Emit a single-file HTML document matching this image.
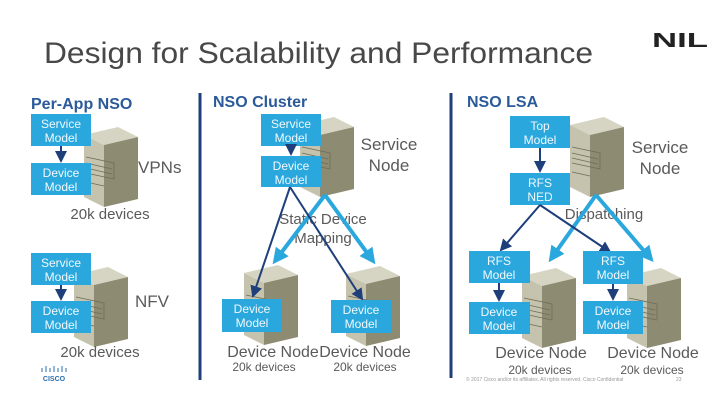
<!DOCTYPE html>
<html><head><meta charset="utf-8"><style>
body{margin:0;background:#fff}
svg{display:block}
text{font-family:"Liberation Sans",sans-serif}
.h{font-weight:bold;fill:#2b5a9a;font-size:16px}
.b{fill:#2aa8de}
.bt{fill:#f2f8fc;font-size:12px;text-anchor:middle}
.g{fill:#5a5a5a;text-anchor:middle}
</style></head><body>
<svg width="720" height="405" viewBox="0 0 720 405" xmlns="http://www.w3.org/2000/svg">
<defs>
<g id="srv">
<polygon points="0,8 34,0 54,10 20,18" fill="#d6d5c3"/>
<polygon points="0,8 20,18 20,80 0,70" fill="#c5c3ad"/>
<polygon points="20,18 54,10 54,72 20,80" fill="#8d8b72"/>
<g stroke="#6f6d58" stroke-width="0.8" fill="none">
<polyline points="2,30 30,36 30,52 2,46"/>
<line x1="2" y1="36" x2="28" y2="42"/><line x1="2" y1="41" x2="28" y2="47"/>
<line x1="2" y1="55" x2="20" y2="59"/>
</g>
</g>
<marker id="ad" markerWidth="6" markerHeight="6" refX="5" refY="3" orient="auto" markerUnits="strokeWidth"><path d="M0,0L6,3L0,6z" fill="#1f3f7a"/></marker>
<marker id="al" markerWidth="4" markerHeight="4" refX="3" refY="2" orient="auto" markerUnits="strokeWidth"><path d="M0,0L4,2L0,4z" fill="#2aa8de"/></marker>
</defs>

<text x="44" y="63" font-size="30" fill="#484848" textLength="549" lengthAdjust="spacingAndGlyphs">Design for Scalability and Performance</text>
<text x="652" y="47" font-size="20" font-weight="bold" fill="#222" textLength="56" lengthAdjust="spacingAndGlyphs">NIL</text>

<line x1="200" y1="93" x2="200" y2="380" stroke="#1f3f7a" stroke-width="3"/>
<line x1="451" y1="93" x2="451" y2="378" stroke="#1f3f7a" stroke-width="3"/>

<!-- Per-App -->
<text x="31" y="109" class="h">Per-App NSO</text>
<use href="#srv" x="84" y="127"/>
<rect x="31" y="114" width="60" height="32" class="b"/>
<text x="61" y="128" class="bt">Service</text><text x="61" y="142" class="bt">Model</text>
<rect x="31" y="163" width="60" height="32" class="b"/>
<text x="61" y="177" class="bt">Device</text><text x="61" y="191" class="bt">Model</text>
<line x1="61" y1="146" x2="61" y2="161" stroke="#1f3f7a" stroke-width="2" marker-end="url(#ad)"/>
<text x="138" y="173" font-size="17" fill="#5a5a5a">VPNs</text>
<text x="110" y="219" font-size="15" class="g">20k devices</text>

<use href="#srv" x="74" y="267"/>
<rect x="31" y="253" width="60" height="32" class="b"/>
<text x="61" y="267" class="bt">Service</text><text x="61" y="281" class="bt">Model</text>
<rect x="31" y="301" width="60" height="32" class="b"/>
<text x="61" y="315" class="bt">Device</text><text x="61" y="329" class="bt">Model</text>
<line x1="61" y1="285" x2="61" y2="299" stroke="#1f3f7a" stroke-width="2" marker-end="url(#ad)"/>
<text x="135" y="307" font-size="17" fill="#5a5a5a">NFV</text>
<text x="100" y="357" font-size="15" class="g">20k devices</text>
<g stroke="#2a6fb0" stroke-width="1"><line x1="42" y1="368" x2="42" y2="372"/><line x1="46" y1="366" x2="46" y2="372"/><line x1="50" y1="368" x2="50" y2="372"/><line x1="54" y1="366" x2="54" y2="372"/><line x1="58" y1="368" x2="58" y2="372"/><line x1="62" y1="366" x2="62" y2="372"/><line x1="66" y1="368" x2="66" y2="372"/></g>
<text x="54" y="381" font-size="7" fill="#2a6fb0" text-anchor="middle" font-weight="bold">CISCO</text>

<!-- NSO Cluster -->
<text x="213" y="107" class="h">NSO Cluster</text>
<use href="#srv" x="300" y="117"/>
<rect x="261" y="114" width="60" height="32" class="b"/>
<text x="291" y="128" class="bt">Service</text><text x="291" y="142" class="bt">Model</text>
<rect x="261" y="156" width="60" height="31" class="b"/>
<text x="291" y="170" class="bt">Device</text><text x="291" y="184" class="bt">Model</text>
<line x1="291" y1="146" x2="291" y2="154" stroke="#1f3f7a" stroke-width="2" marker-end="url(#ad)"/>
<text x="389" y="150" font-size="17" class="g">Service</text>
<text x="389" y="171" font-size="17" class="g">Node</text>
<text x="323" y="224" font-size="15" class="g">Static Device</text>
<text x="323" y="243" font-size="15" class="g">Mapping</text>
<use href="#srv" x="244" y="265"/>
<use href="#srv" x="346" y="266"/>
<g stroke="#2aa8de" stroke-width="4" fill="none">
<line x1="325" y1="195" x2="275" y2="261" marker-end="url(#al)"/>
<line x1="325" y1="195" x2="373" y2="261" marker-end="url(#al)"/>
</g>
<g stroke="#1f3f7a" stroke-width="2">
<line x1="290" y1="187" x2="253" y2="296" marker-end="url(#ad)"/>
<line x1="290" y1="187" x2="362" y2="299" marker-end="url(#ad)"/>
</g>
<rect x="222" y="299" width="60" height="33" class="b"/>
<text x="252" y="313" class="bt">Device</text><text x="252" y="327" class="bt">Model</text>
<rect x="331" y="300" width="60" height="33" class="b"/>
<text x="361" y="314" class="bt">Device</text><text x="361" y="328" class="bt">Model</text>
<text x="273" y="357" font-size="16" class="g">Device Node</text>
<text x="365" y="357" font-size="16" class="g">Device Node</text>
<text x="264" y="371" font-size="12" class="g">20k devices</text>
<text x="365" y="371" font-size="12" class="g">20k devices</text>

<!-- NSO LSA -->
<text x="467" y="107" class="h">NSO LSA</text>
<use href="#srv" x="570" y="117"/>
<rect x="510" y="116" width="60" height="32" class="b"/>
<text x="540" y="130" class="bt">Top</text><text x="540" y="144" class="bt">Model</text>
<rect x="510" y="173" width="60" height="32" class="b"/>
<text x="540" y="187" class="bt">RFS</text><text x="540" y="201" class="bt">NED</text>
<line x1="540" y1="148" x2="540" y2="171" stroke="#1f3f7a" stroke-width="2" marker-end="url(#ad)"/>
<text x="660" y="153" font-size="17" class="g">Service</text>
<text x="660" y="174" font-size="17" class="g">Node</text>
<text x="604" y="219" font-size="15" class="g">Dispatching</text>
<use href="#srv" x="522" y="268"/>
<use href="#srv" x="627" y="268"/>
<g stroke="#2aa8de" stroke-width="4" fill="none">
<line x1="596" y1="195" x2="551" y2="259" marker-end="url(#al)"/>
<line x1="596" y1="195" x2="651" y2="259" marker-end="url(#al)"/>
</g>
<g stroke="#1f3f7a" stroke-width="2">
<line x1="540" y1="205" x2="501" y2="250" marker-end="url(#ad)"/>
<line x1="540" y1="205" x2="610" y2="252" marker-end="url(#ad)"/>
</g>
<rect x="469" y="251" width="61" height="32" class="b"/>
<text x="499" y="265" class="bt">RFS</text><text x="499" y="279" class="bt">Model</text>
<rect x="583" y="251" width="60" height="33" class="b"/>
<text x="613" y="265" class="bt">RFS</text><text x="613" y="279" class="bt">Model</text>
<rect x="469" y="302" width="61" height="32" class="b"/>
<text x="499" y="316" class="bt">Device</text><text x="499" y="330" class="bt">Model</text>
<rect x="583" y="301" width="60" height="33" class="b"/>
<text x="613" y="315" class="bt">Device</text><text x="613" y="329" class="bt">Model</text>
<line x1="499" y1="283" x2="499" y2="300" stroke="#1f3f7a" stroke-width="2" marker-end="url(#ad)"/>
<line x1="613" y1="284" x2="613" y2="299" stroke="#1f3f7a" stroke-width="2" marker-end="url(#ad)"/>
<text x="541" y="358" font-size="16" class="g">Device Node</text>
<text x="653" y="358" font-size="16" class="g">Device Node</text>
<text x="540" y="374" font-size="12" class="g">20k devices</text>
<text x="652" y="374" font-size="12" class="g">20k devices</text>
<text x="466" y="381" font-size="5" fill="#999">© 2017 Cisco and/or its affiliates. All rights reserved.   Cisco Confidential</text>
<text x="676" y="381" font-size="5" fill="#999">23</text>
</svg>
</body></html>
